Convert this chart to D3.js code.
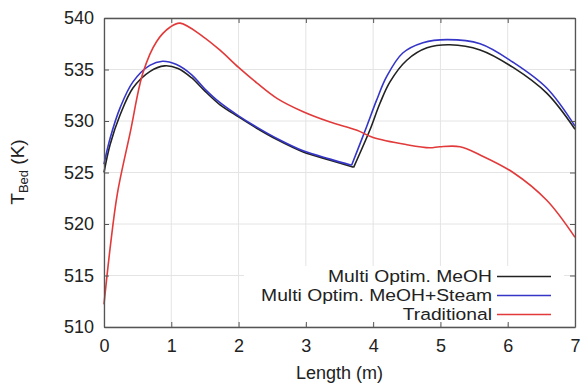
<!DOCTYPE html>
<html>
<head>
<meta charset="utf-8">
<script src="https://cdn.jsdelivr.net/npm/d3@7"></script>
<style>
  body { margin: 0; background: #fff; }
  text { font-family: "Liberation Sans", Arial, sans-serif; fill: #222; }
</style>
</head>
<body>
<div id="chart-container"></div>
<script>
// chart size
const svgWidth = 582;
const svgHeight = 387;
const margin = { top: 18, right: 7, bottom: 60, left: 104 };

// tick values
const xTicks = [0, 1, 2, 3, 4, 5, 6, 7];
const yTicks = [510, 515, 520, 525, 530, 535, 540];

// series data, [length, temperature]; each series has two segments (break at the jump)
const meohSeg1 = [[0, 525.0], [0.09, 527.7], [0.24, 530.6], [0.43, 533.2], [0.68, 534.8], [0.9, 535.35],
  [1.1, 535.1], [1.3, 534.2], [1.5, 532.9], [1.72, 531.6], [2.0, 530.4], [2.27, 529.3], [2.57, 528.2],
  [2.96, 527.0], [3.36, 526.2], [3.71, 525.5]];
const meohSeg2 = [[3.71, 525.5], [3.95, 529.1], [4.1, 531.7], [4.25, 533.8], [4.5, 535.9], [4.8, 537.1],
  [5.14, 537.4], [5.59, 536.9], [6.08, 535.2], [6.58, 532.7], [7, 529.2]];

const steamSeg1 = [[0, 525.8], [0.09, 528.3], [0.24, 531.3], [0.43, 533.8], [0.68, 535.4], [0.87, 535.8],
  [1.07, 535.5], [1.3, 534.5], [1.5, 533.1], [1.72, 531.8], [2.0, 530.5], [2.27, 529.4], [2.57, 528.3],
  [2.96, 527.1], [3.36, 526.3], [3.68, 525.7]];
const steamSeg2 = [[3.68, 525.7], [3.9, 529.4], [4.05, 532.0], [4.2, 534.3], [4.44, 536.6], [4.74, 537.6],
  [5.1, 537.9], [5.59, 537.5], [6.08, 535.7], [6.58, 533.2], [7, 529.5]];

const tradSeg = [[0, 512.2], [0.09, 517.6], [0.2, 523.0], [0.39, 528.9], [0.58, 534.7], [0.78, 537.7],
  [0.98, 539.1], [1.13, 539.5], [1.47, 538.2], [1.72, 536.9], [2.0, 535.2], [2.27, 533.7],
  [2.57, 532.2], [2.96, 530.9], [3.36, 529.9], [3.76, 529.1], [4.0, 528.4], [4.5, 527.7],
  [4.84, 527.4], [4.99, 527.5], [5.29, 527.5], [5.59, 526.7], [6.08, 525.0], [6.58, 522.3], [7, 518.7]];

const seriesNames = ['Multi Optim. MeOH', 'Multi Optim. MeOH+Steam', 'Traditional'];
const seriesColors = ['#222222', '#3535c8', '#e23a3a'];
const seriesSegments = [[meohSeg1, meohSeg2], [steamSeg1, steamSeg2], [tradSeg]];

const svg = d3.select('#chart-container')
  .append('svg')
  .attr('width', svgWidth)
  .attr('height', svgHeight);

const plotW = svgWidth - margin.left - margin.right;
const plotH = svgHeight - margin.top - margin.bottom;

const xScale = d3.scaleLinear().domain([0, 7]).range([margin.left, margin.left + plotW]);
const yScale = d3.scaleLinear().domain([510, 540]).range([margin.top + plotH, margin.top]);

// grid lines
svg.append('g')
  .selectAll('line.vgrid')
  .data(xTicks)
  .enter()
  .append('line')
  .attr('x1', d => xScale(d)).attr('x2', d => xScale(d))
  .attr('y1', yScale(510)).attr('y2', yScale(540))
  .attr('stroke', '#e4e4e4').attr('stroke-width', 1);
svg.append('g')
  .selectAll('line.hgrid')
  .data(yTicks)
  .enter()
  .append('line')
  .attr('x1', xScale(0)).attr('x2', xScale(7))
  .attr('y1', d => yScale(d)).attr('y2', d => yScale(d))
  .attr('stroke', '#e4e4e4').attr('stroke-width', 1);

// lines
const line = d3.line()
  .x(d => xScale(d[0]))
  .y(d => yScale(d[1]))
  .curve(d3.curveCatmullRom.alpha(0.5));

seriesSegments.forEach((segs, i) => {
  segs.forEach(seg => {
    svg.append('path')
      .datum(seg)
      .attr('d', line)
      .attr('fill', 'none')
      .attr('stroke', seriesColors[i])
      .attr('stroke-width', 1.6);
  });
});

// legend box
const legendRight = 492;
const legendRows = [276.5, 295.5, 314.5];
svg.append('rect')
  .attr('x', 244).attr('y', 266)
  .attr('width', 320).attr('height', 58)
  .attr('fill', '#fff');

seriesNames.forEach((name, i) => {
  // text is a bit wide in the original, so stretch it horizontally
  svg.append('text')
    .attr('transform', 'translate(' + legendRight + ',' + legendRows[i] + ') scale(1.17,1)')
    .attr('dy', '0.35em')
    .attr('text-anchor', 'end')
    .style('font-size', '16.5px')
    .text(name);
  svg.append('line')
    .attr('x1', legendRight + 5).attr('x2', legendRight + 59)
    .attr('y1', legendRows[i]).attr('y2', legendRows[i])
    .attr('stroke', seriesColors[i])
    .attr('stroke-width', 1.6);
});

// axes (ticks inward, mirrored)
svg.append('g')
  .attr('transform', 'translate(0,' + yScale(510) + ')')
  .call(d3.axisBottom(xScale).tickValues(xTicks).tickFormat(d3.format('d'))
    .tickSizeInner(-5).tickSizeOuter(0).tickPadding(12));
svg.append('g')
  .attr('transform', 'translate(' + xScale(0) + ',0)')
  .call(d3.axisLeft(yScale).tickValues(yTicks).tickFormat(d3.format('d'))
    .tickSizeInner(-5).tickSizeOuter(0).tickPadding(10));
svg.append('g')
  .attr('transform', 'translate(0,' + yScale(540) + ')')
  .call(d3.axisTop(xScale).tickValues(xTicks).tickSizeInner(-5).tickSizeOuter(0).tickFormat(''));
svg.append('g')
  .attr('transform', 'translate(' + xScale(7) + ',0)')
  .call(d3.axisRight(yScale).tickValues(yTicks).tickSizeInner(-5).tickSizeOuter(0).tickFormat(''));

svg.selectAll('.domain').attr('stroke', '#555').attr('stroke-width', 1.3);
svg.selectAll('.tick line').attr('stroke', '#555');
svg.selectAll('.tick text')
  .style('font-size', '18px')
  .style('font-family', '"Liberation Sans", Arial, sans-serif')
  .attr('fill', '#222');

// axis titles
svg.append('text')
  .attr('x', xScale(3.5))
  .attr('y', 379)
  .attr('text-anchor', 'middle')
  .style('font-size', '18px')
  .text('Length (m)');

const yLabel = svg.append('text')
  .attr('transform', 'translate(24,' + 172 + ') rotate(-90)')
  .attr('text-anchor', 'middle')
  .style('font-size', '19px');
yLabel.append('tspan').text('T');
yLabel.append('tspan').attr('dy', 4).style('font-size', '13px').text('Bed');
yLabel.append('tspan').attr('dy', -4).text(' (K)');
</script>
</body>
</html>
